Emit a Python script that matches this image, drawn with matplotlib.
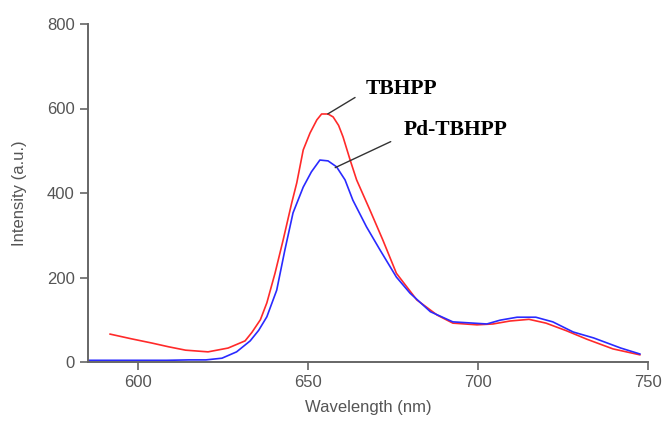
import matplotlib
matplotlib.use("Agg")
import matplotlib.pyplot as plt

# TBHPP (red)
tb_x = [591.8, 598, 604, 609, 614, 620.6, 626.5, 631.5, 633.5, 636, 637.9, 640.3, 642.7, 645.2,
        646.7, 648.6, 650.6, 652.6, 654, 655.9, 657.4, 659, 660.3, 662.4, 664.3, 668.2, 672,
        676, 682, 688, 692.6, 699.7, 704.4, 709.4, 715, 720, 726, 732, 739.7, 747.6]
tb_y = [66, 55, 45, 36, 28, 24, 33, 50, 70, 100, 140, 210, 289, 376,
        424, 502, 542, 573, 587, 587, 580, 560, 533, 478, 431, 360, 289,
        210, 147, 111, 92, 88, 90, 97, 101, 92, 74, 54, 31, 17]

# Pd-TBHPP (blue)
pd_x = [585.5, 595, 608.5, 615, 620, 624.7, 629, 633, 635.5, 637.9, 640.8, 643.2, 645.6, 648.6,
        651, 653.5, 655.9, 658.4, 660.9, 663.2, 667.2, 671.2, 676, 680, 686, 692.6, 702.6,
        706.5, 711.5, 717, 722, 728, 734, 742, 747.6]
pd_y = [4, 4, 4, 5, 5, 9, 24, 50, 75, 107, 170, 265, 353, 414,
        450, 478, 476, 462, 431, 383, 320, 265, 201, 163, 119, 95, 90,
        99, 106, 106, 95, 71, 57, 33, 19]

xticks = [600, 650, 700, 750]
yticks = [0, 200, 400, 600, 800]

fig = plt.figure(figsize=(6.66, 4.21), dpi=100)
ax = fig.add_axes([88/666, 1-362/421, (648-88)/666, (362-24)/421])

ax.plot(tb_x, tb_y, color="#ff2a2a", lw=1.2)
ax.plot(pd_x, pd_y, color="#2a2aff", lw=1.2)

ax.set_xlim(585.3, 750)
ax.set_ylim(0, 800)
ax.set_xticks(xticks)
ax.set_yticks(yticks)
ax.set_xticklabels([str(v) for v in xticks])
ax.set_yticklabels([str(v) for v in yticks])

grey = "#555555"
for s in ["top", "right"]:
    ax.spines[s].set_visible(False)
for s in ["left", "bottom"]:
    ax.spines[s].set_color("#666666")
    ax.spines[s].set_linewidth(1.4)
ax.tick_params(direction="out", length=6, width=1.2, color="#666666",
               labelcolor=grey, labelsize=12)
for lab in ax.get_xticklabels() + ax.get_yticklabels():
    lab.set_family("Liberation Sans")

ax.set_xlabel("Wavelength (nm)", fontsize=12, color=grey, family="Liberation Sans", labelpad=7)
ax.set_ylabel("Intensity (a.u.)", fontsize=12, color=grey, family="Liberation Sans", labelpad=14)

ax.annotate("TBHPP", xy=(655.8, 587), xytext=(667, 645),
            fontsize=15.5, fontweight="bold", family="Liberation Serif", va="center", ha="left",
            arrowprops=dict(arrowstyle="-", color="#333333", lw=1.0,
                            shrinkA=0, shrinkB=0,
                            relpos=(-0.15, 0.1)))
ax.annotate("Pd-TBHPP", xy=(658, 460), xytext=(678, 550),
            fontsize=15.5, fontweight="bold", family="Liberation Serif", va="center", ha="left",
            arrowprops=dict(arrowstyle="-", color="#333333", lw=1.0,
                            shrinkA=0, shrinkB=0,
                            relpos=(-0.12, -0.1)))

fig.savefig("out.png", dpi=100)
